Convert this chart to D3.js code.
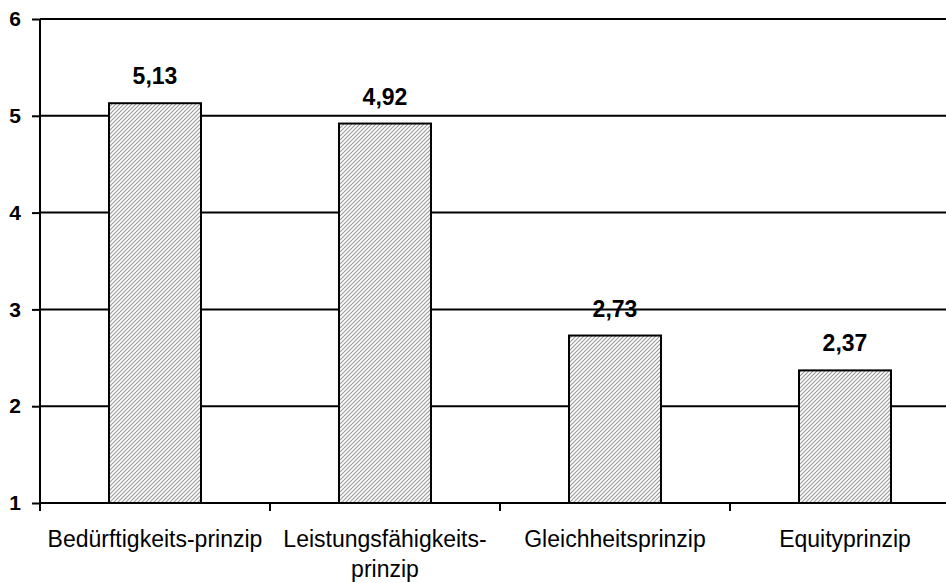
<!DOCTYPE html>
<html>
<head>
<meta charset="utf-8">
<script src="https://cdn.jsdelivr.net/npm/d3@7"></script>
<style>
  body { margin: 0; background: #fff; }
  svg { display: block; font-family: "Liberation Sans", Arial, sans-serif; }
</style>
</head>
<body>
<script>
const categories = ["Bedürftigkeits-prinzip", "Leistungsfähigkeits-|prinzip", "Gleichheitsprinzip", "Equityprinzip"];
const values = [5.13, 4.92, 2.73, 2.37];
const valueLabels = ["5,13", "4,92", "2,73", "2,37"];
const yTicks = [1, 2, 3, 4, 5, 6];

const width = 946;
const height = 583;
const margin = { top: 19, right: -14, bottom: 80, left: 40 };

const svg = d3.select("body")
  .append("svg")
  .attr("width", width)
  .attr("height", height);

// diagonal hatch for the bars
const pattern = svg.append("defs")
  .append("pattern")
  .attr("id", "hatch")
  .attr("patternUnits", "userSpaceOnUse")
  .attr("width", 4)
  .attr("height", 4);
pattern.append("rect").attr("width", 4).attr("height", 4).attr("fill", "#fff");
pattern.append("path")
  .attr("d", "M-1,1 l2,-2 M0,4 l4,-4 M3,5 l2,-2")
  .attr("stroke", "#999")
  .attr("stroke-width", 1.1);

const x = d3.scaleBand()
  .domain(categories)
  .range([margin.left, width - margin.right])
  .paddingInner(0.6)
  .paddingOuter(0.3);

const y = d3.scaleLinear()
  .domain([1, 6])
  .range([height - margin.bottom, margin.top]);

// gridlines
svg.append("g")
  .selectAll("line")
  .data(yTicks.filter(d => d > 1))
  .join("line")
  .attr("x1", margin.left)
  .attr("x2", width)
  .attr("y1", d => y(d))
  .attr("y2", d => y(d))
  .attr("stroke", "#000")
  .attr("stroke-width", 2);

// bars
svg.append("g")
  .selectAll("rect")
  .data(values)
  .join("rect")
  .attr("x", (d, i) => x(categories[i]))
  .attr("y", d => y(d))
  .attr("width", x.bandwidth())
  .attr("height", d => y(1) - y(d))
  .attr("fill", "url(#hatch)")
  .attr("stroke", "#000")
  .attr("stroke-width", 2);

// value labels
svg.append("g")
  .selectAll("text")
  .data(values)
  .join("text")
  .attr("x", (d, i) => x(categories[i]) + x.bandwidth() / 2)
  .attr("y", d => y(d) - 19)
  .attr("text-anchor", "middle")
  .attr("font-size", "23px")
  .attr("font-weight", "bold")
  .text((d, i) => valueLabels[i]);

// y axis
const yAxis = svg.append("g")
  .attr("transform", `translate(${margin.left},0)`)
  .call(d3.axisLeft(y).tickValues(yTicks).tickSize(8).tickPadding(11).tickFormat(d3.format("d")));
yAxis.attr("font-size", null).attr("font-family", null);
yAxis.select(".domain").attr("stroke-width", 2).attr("d", `M0,${y(6)}V${y(1)}`);
yAxis.selectAll(".tick line").attr("stroke-width", 2);
yAxis.selectAll(".tick text")
  .style("font-size", "21px")
  .style("font-weight", "bold")
  .attr("fill", "#000");

// x axis
const xStep = x.step();
const bounds = d3.range(categories.length + 1).map(i => margin.left + i * xStep);
const xAxisG = svg.append("g");
xAxisG.append("line")
  .attr("x1", margin.left)
  .attr("x2", width)
  .attr("y1", y(1))
  .attr("y2", y(1))
  .attr("stroke", "#000")
  .attr("stroke-width", 2);
xAxisG.selectAll(".tk")
  .data(bounds)
  .join("line")
  .attr("class", "tk")
  .attr("x1", d => d)
  .attr("x2", d => d)
  .attr("y1", y(1))
  .attr("y2", y(1) + 8)
  .attr("stroke", "#000")
  .attr("stroke-width", 2);

const catText = xAxisG.selectAll(".cat")
  .data(categories)
  .join("text")
  .attr("class", "cat")
  .attr("x", d => x(d) + x.bandwidth() / 2)
  .attr("y", y(1) + 44)
  .attr("text-anchor", "middle")
  .attr("font-size", "23px");
catText.each(function(d) {
  const lines = d.split("|");
  const t = d3.select(this);
  lines.forEach((l, i) => {
    t.append("tspan")
      .attr("x", t.attr("x"))
      .attr("dy", i === 0 ? 0 : 30)
      .text(l);
  });
});
</script>
</body>
</html>
